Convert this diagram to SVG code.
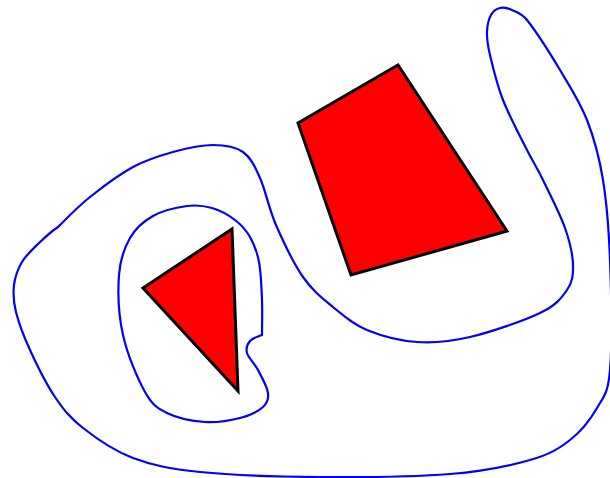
<svg xmlns="http://www.w3.org/2000/svg" width="610" height="478" viewBox="0 0 610 478">
<style>
.curve{fill:none;stroke:#0000ff;stroke-width:2.2;stroke-linejoin:miter}
.shape{fill:#ff0000;stroke:#000000;stroke-width:3;stroke-linejoin:miter}
</style>
<rect width="610" height="478" fill="#ffffff"/>
<g id="outer-curve">
<path class="curve" d="M 58 227 C 68 217 77.5 207 90 197 C 102.5 187 119.2 174.5 133 167 C 146.8 159.5 159.7 155.7 173 152 C 186.3 148.3 201.3 145 213 145 C 224.7 145 235.2 146.5 243 152 C 250.8 157.5 254.5 165.8 260 178 C 265.5 190.2 268.8 208.5 276 225 C 283.2 241.5 293.5 263.3 303 277 C 312.5 290.7 322.3 298.2 333 307 C 343.7 315.8 353 324.2 367 330 C 381 335.8 399.8 340.8 417 342 C 434.2 343.2 449.5 341.8 470 337 C 490.5 332.2 523.8 320.8 540 313 C 556.2 305.2 561.5 298 567 290 C 572.5 282 573.3 275.3 573 265 C 572.7 254.7 570 242.2 565 228 C 560 213.8 549.3 193 543 180 C 536.7 167 533.7 163.3 527 150 C 520.3 136.7 509.2 115.8 503 100 C 496.8 84.2 492.7 66.3 490 55 C 487.3 43.7 486.8 38.7 487 32 C 487.2 25.3 488.8 19 491 15 C 493.2 11 496.5 8.8 500 8 C 503.5 7.2 507.5 8 512 10 C 516.5 12 521.5 13.1 527 20 C 535 30 550 53.3 560 70 C 570 86.7 579.8 101.7 587 120 C 594.2 138.3 599.2 156.7 603 180 C 606.8 203.3 608.8 228.3 610 260 C 611.2 291.7 612.2 345.3 610 370 C 607.8 394.7 603.7 396.3 597 408 C 590.3 419.7 581.2 431.3 570 440 C 558.8 448.7 550 454.3 530 460 C 510 465.7 485 471.2 450 474 C 415 476.8 361.7 477.3 320 477 C 278.3 476.7 231.2 475.2 200 472 C 168.8 468.8 152.5 465.3 133 458 C 113.5 450.7 96 438.2 83 428 C 70 417.8 63.8 410 55 397 C 46.2 384 36.5 364.2 30 350 C 23.5 335.8 18.7 322.8 16 312 C 13.3 301.2 13 293.3 14 285 C 15 276.7 18 268.8 22 262 C 26 255.2 32 249.8 38 244 C 44 238.2 51 231.5 58 227 Z"/>
</g>
<g id="inner-curve">
<path class="curve" d="M 262 335 C 257 337 252.5 338 250 341 C 247.5 344 245.7 348.2 247 353 C 248.3 357.8 254.5 363.3 258 370 C 261.5 376.7 267.2 386.8 268 393 C 268.8 399.2 267.7 402.8 263 407 C 258.3 411.2 249.7 415.5 240 418 C 230.3 420.5 217.2 422.8 205 422 C 192.8 421.2 177 418 167 413 C 157 408 152.3 405 145 392 C 137.7 379 127.3 354.5 123 335 C 118.7 315.5 117.8 291.2 119 275 C 120.2 258.8 124.3 247.8 130 238 C 135.7 228.2 143.5 221.3 153 216 C 162.5 210.7 177.2 207.3 187 206 C 196.8 204.7 204 205.7 212 208 C 220 210.3 228.7 215.2 235 220 C 241.3 224.8 246 230 250 237 C 254 244 257 251.5 259 262 C 261 272.5 261.5 287.8 262 300 C 262.5 312.2 262 325 262 335 Z"/>
</g>
<g id="quadrilateral">
<polygon class="shape" points="298,123 398,65 507,231 351,275"/>
</g>
<g id="triangle">
<polygon class="shape" points="143,288 232,229 238,391"/>
</g>
</svg>
